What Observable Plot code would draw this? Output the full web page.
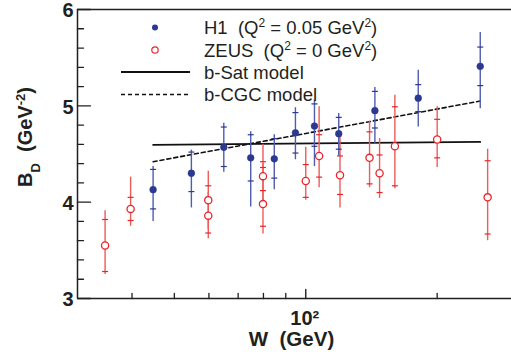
<!DOCTYPE html>
<html>
<head>
<meta charset="utf-8">
<script src="https://cdn.jsdelivr.net/npm/d3@7"></script>
<script src="https://cdn.jsdelivr.net/npm/@observablehq/plot@0.6"></script>
<style>
  body { margin: 0; background: #fff; }
  #chart { width: 511px; height: 364px; }
  svg { font-family: "Liberation Sans", Arial, sans-serif; }
</style>
</head>
<body>
<div id="chart"></div>
<script>
// H1 (Q^2 = 0.05 GeV^2): W, BD, stat low/high, total low/high
const h1W      = [44.7, 54.7, 64.9, 74.8, 84.7, 94.7, 104.7, 119, 144, 181, 251];
const h1B      = [4.13, 4.30, 4.57, 4.46, 4.45, 4.72, 4.79, 4.71, 4.95, 5.08, 5.41];
const h1StatLo = [3.93, 4.11, 4.37, 4.22, 4.25, 4.51, 4.58, 4.55, 4.77, 4.94, 5.21];
const h1StatHi = [4.34, 4.52, 4.78, 4.70, 4.66, 4.93, 5.02, 4.88, 5.15, 5.22, 5.61];
const h1TotLo  = [3.80, 3.94, 4.31, 3.95, 4.13, 4.44, 4.37, 4.48, 4.60, 4.78, 4.97];
const h1TotHi  = [4.37, 4.54, 4.82, 4.73, 4.70, 4.98, 5.06, 4.92, 5.19, 5.37, 5.76];

// ZEUS (Q^2 = 0 GeV^2)
const zW       = [34.7, 39.7, 59.8, 59.8, 79.8, 79.8, 100, 107.3, 119.8, 140, 147.6, 160, 200, 261];
const zB       = [3.55, 3.93, 4.02, 3.86, 4.27, 3.98, 4.22, 4.48, 4.28, 4.46, 4.30, 4.58, 4.65, 4.05];
const zStatLo  = [3.28, 3.81, 3.87, 3.68, 4.12, 3.75, 4.05, 4.26, 4.08, 4.19, 4.10, 4.17, 4.46, 3.67];
const zStatHi  = [3.82, 4.05, 4.17, 4.05, 4.42, 4.36, 4.39, 4.70, 4.48, 4.73, 4.49, 4.99, 4.86, 4.43];
const zTotLo   = [3.25, 3.75, 3.72, 3.62, 3.95, 3.67, 4.02, 4.15, 3.94, 4.15, 4.04, 4.14, 4.36, 3.60];
const zTotHi   = [3.91, 4.26, 4.32, 4.10, 4.60, 4.40, 4.57, 4.99, 4.71, 4.84, 4.66, 5.11, 4.99, 4.55];

// Model curves
const satW = [44.7, 104.7, 251];
const satB = [4.595, 4.61, 4.625];
const cgcW = [44.7, 104.7, 251];
const cgcB = [4.42, 4.73, 5.05];

// Axis ticks
const yMajor = [3, 4, 5, 6];
const yMinor = [3.2, 3.4, 3.6, 3.8, 4.2, 4.4, 4.6, 4.8, 5.2, 5.4, 5.6, 5.8];
const xMajor = [100];
const xMinor = [40, 50, 60, 70, 80, 90, 200];
const xMajorLabels = ["10²"];

const BLUE = "#2b3990";
const BLUE_BAR = "#4f5cb0";
const RED = "#e8262a";
const RED_BAR = "#ef5a5a";
const AXIS = "#231f20";

const h1 = h1W.map((w, i) => ({w, b: h1B[i], sl: h1StatLo[i], sh: h1StatHi[i], tl: h1TotLo[i], th: h1TotHi[i]}));
const zeus = zW.map((w, i) => ({w, b: zB[i], sl: zStatLo[i], sh: zStatHi[i], tl: zTotLo[i], th: zTotHi[i]}));
const sat = satW.map((w, i) => ({w, b: satB[i]}));
const cgc = cgcW.map((w, i) => ({w, b: cgcB[i]}));

const hline = {draw(c, s) { const w = Math.sqrt(s / Math.PI); c.moveTo(-w, 0); c.lineTo(w, 0); }};
const tickShape = {draw(c, l) { c.moveTo(0, 0); c.lineTo(0, -l); }};
const capsOf = (arr) => arr.flatMap(d => [{w: d.w, v: d.sl}, {w: d.w, v: d.sh}]);

const chart = Plot.plot({
  width: 511,
  height: 364,
  marginLeft: 77,
  marginRight: 0,
  marginTop: 9,
  marginBottom: 66,
  style: {fontFamily: "Liberation Sans, Arial, sans-serif", background: "#fff"},
  x: {type: "log", domain: [30, 296], axis: null},
  y: {domain: [3, 6], axis: null},
  marks: [
    // tick labels
    Plot.axisY({ticks: yMajor, tickSize: 0, tickPadding: 4, tickFormat: d => String(d), fontSize: 20, fontWeight: "bold", fill: AXIS, label: null, dy: 1.5}),
    Plot.axisX({ticks: xMajor, tickSize: 0, tickPadding: 12, tickFormat: d => xMajorLabels[xMajor.indexOf(d)], fontSize: 20, fontWeight: "bold", fill: AXIS, label: null, dx: -1}),
    Plot.text(["W  (GeV)"], {frameAnchor: "bottom", text: d => d, dy: 47, dx: -3, fontSize: 20.5, fontWeight: "bold", fill: AXIS, lineAnchor: "bottom"}),

    // inward tick marks
    Plot.vector(yMajor, {y: d => d, frameAnchor: "left", length: 13, rotate: 90, anchor: "start", shape: tickShape, stroke: AXIS, strokeWidth: 1.4}),
    Plot.vector(yMinor, {y: d => d, frameAnchor: "left", length: 6, rotate: 90, anchor: "start", shape: tickShape, stroke: AXIS, strokeWidth: 1.3}),
    Plot.vector(xMajor, {x: d => d, frameAnchor: "bottom", length: 9, rotate: 0, anchor: "start", shape: tickShape, stroke: AXIS, strokeWidth: 1.4}),
    Plot.vector(xMinor, {x: d => d, frameAnchor: "bottom", length: 5, rotate: 0, anchor: "start", shape: tickShape, stroke: AXIS, strokeWidth: 1.3}),

    // model curves
    Plot.line(sat, {x: "w", y: "b", stroke: "#111", strokeWidth: 1.8}),
    Plot.line(cgc, {x: "w", y: "b", stroke: "#111", strokeWidth: 1.6, strokeDasharray: "4,3"}),

    // ZEUS error bars
    Plot.ruleX(zeus, {x: "w", y1: "tl", y2: "th", stroke: RED_BAR, strokeWidth: 1.4}),
    Plot.dot(capsOf(zeus), {x: "w", y: "v", symbol: hline, r: 3, stroke: RED, strokeWidth: 1.2, fill: "none"}),
    // H1 error bars
    Plot.ruleX(h1, {x: "w", y1: "tl", y2: "th", stroke: BLUE_BAR, strokeWidth: 1.4}),
    Plot.dot(capsOf(h1), {x: "w", y: "v", symbol: hline, r: 3, stroke: BLUE, strokeWidth: 1.2, fill: "none"}),

    // points
    Plot.dot(zeus, {x: "w", y: "b", r: 3.6, stroke: RED, strokeWidth: 1.3, fill: "white"}),
    Plot.dot(h1, {x: "w", y: "b", r: 3.4, fill: BLUE, stroke: BLUE, strokeWidth: 0.5}),

    // frame (left, top, bottom)
    Plot.ruleY([3, 6], {stroke: AXIS, strokeWidth: 1.5}),
    Plot.ruleX([30], {stroke: AXIS, strokeWidth: 1.5}),
  ]
});

document.getElementById("chart").appendChild(chart);

const svg = d3.select(chart);

// legend
const legendY = [27.5, 50, 72, 94.5];
const lg = svg.append("g").attr("font-size", 18.5).attr("fill", "#231f20").attr("text-anchor", "start").style("white-space", "pre");
lg.append("circle").attr("cx", 155).attr("cy", legendY[0]).attr("r", 3).attr("fill", BLUE);
lg.append("circle").attr("cx", 155).attr("cy", legendY[1]).attr("r", 3.2).attr("fill", "white").attr("stroke", RED).attr("stroke-width", 1.2);
lg.append("line").attr("x1", 121).attr("x2", 190).attr("y1", legendY[2]).attr("y2", legendY[2])
  .attr("stroke", "#111").attr("stroke-width", 1.8);
lg.append("line").attr("x1", 121).attr("x2", 190).attr("y1", legendY[3]).attr("y2", legendY[3])
  .attr("stroke", "#111").attr("stroke-width", 1.6).attr("stroke-dasharray", "4,3");

function richText(g, x, y, parts) {
  const t = g.append("text").attr("x", x).attr("y", y).attr("text-anchor", "start");
  parts.forEach(([s, kind]) => {
    const sp = t.append("tspan").text(s);
    if (kind === "sup") sp.attr("font-size", 12).attr("baseline-shift", "super");
  });
  return t;
}
richText(lg, 204, legendY[0] + 6.5, [["H1  (Q"], ["2", "sup"], [" = 0.05 GeV"], ["2", "sup"], [")"]]);
richText(lg, 204, legendY[1] + 6.5, [["ZEUS  (Q"], ["2", "sup"], [" = 0 GeV"], ["2", "sup"], [")"]]);
richText(lg, 204, legendY[2] + 6.5, [["b-Sat model"]]);
richText(lg, 204, legendY[3] + 6.5, [["b-CGC model"]]);

// Y axis label with subscript and superscript
const yl = svg.append("text")
  .attr("transform", "translate(32,137) rotate(-90)")
  .attr("text-anchor", "middle")
  .attr("font-size", 20)
  .attr("font-weight", "bold")
  .attr("fill", AXIS)
  .style("white-space", "pre");
yl.append("tspan").text("B");
yl.append("tspan").attr("font-size", 13).attr("baseline-shift", "sub").text("D");
yl.append("tspan").text("  (GeV");
yl.append("tspan").attr("font-size", 13).attr("baseline-shift", "super").text("-2");
yl.append("tspan").text(")");
</script>
</body>
</html>
